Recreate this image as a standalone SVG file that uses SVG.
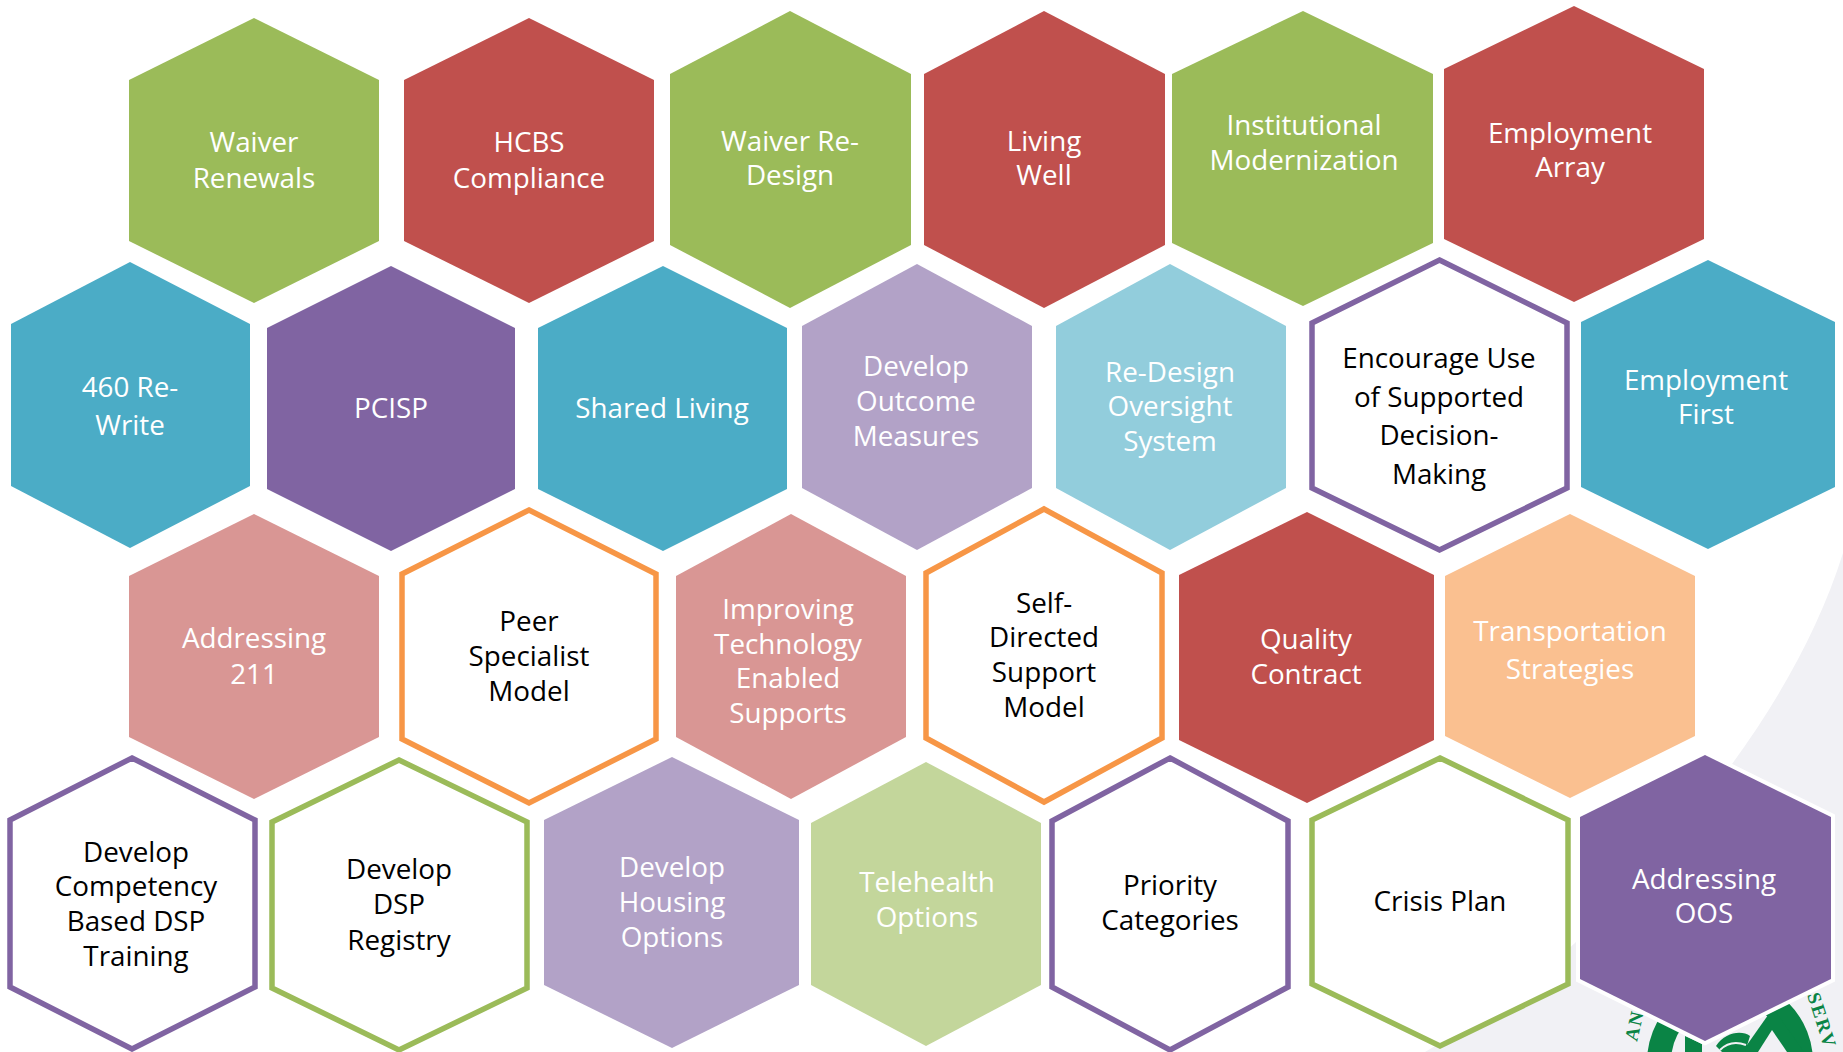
<svg xmlns="http://www.w3.org/2000/svg" width="1843" height="1052" viewBox="0 0 1843 1052">
<style>
text{font-family:"Open Sans","Noto Sans","Liberation Sans",sans-serif;font-size:27.8px;text-anchor:middle}
.w{fill:#fff}.k{fill:#000}
.g{fill:#9bbb59}.r{fill:#c0504d}.t{fill:#4bacc6}.p{fill:#8064a2}.lp{fill:#b2a2c7}.lt{fill:#92cddc}.pk{fill:#d99694}.po{fill:#fac090}.lg{fill:#c3d69b}
.o{fill:#fff;stroke-width:5.5;stroke-linejoin:miter}
.so{stroke:#8064a2}.sg{stroke:#9bbb59}.sa{stroke:#f79646}
.seal{font-family:"Liberation Serif",serif;font-size:19px;font-weight:bold;fill:#0a8445;text-anchor:start;letter-spacing:2px}
</style>
<rect width="1843" height="1052" fill="#fff"/>
<g id="backdrop">
<path d="M1843 553C1800 690 1700 820 1575 943C1530 985 1480 1020 1425 1052H1843Z" fill="#f1f1f5"/>
<circle cx="1730" cy="1062" r="71" fill="none" stroke="#0a8445" stroke-width="24"/>
<path d="M1773 1008L1742 1052H1804Z" fill="#0a8445"/>
<path d="M1772 1030L1758 1052H1787Z" fill="#f1f1f5"/>
<path d="M1685 1036L1702 1044L1702 1052H1685Z" fill="#0a8445"/>
<path d="M1716 1046C1725 1032 1742 1030 1750 1036L1745 1052H1722Z" fill="#0a8445"/>
<path d="M1720 1050C1728 1042 1738 1042 1746 1045" fill="none" stroke="#f1f1f5" stroke-width="2"/>
<text class="seal" transform="translate(1637 1042) rotate(-77)">AN</text>
<text class="seal" transform="translate(1807 995) rotate(72)">SERV</text>
</g>
<g id="connectors"></g>
<g id="n1"><polygon class="g" points="254,18 379,80 379,241 254,303 129,241 129,80"/><text class="w" x="254" y="152">Waiver</text><text class="w" x="254" y="188">Renewals</text></g>
<g id="n2"><polygon class="r" points="529,18 654,80 654,241 529,303 404,241 404,80"/><text class="w" x="529" y="152">HCBS</text><text class="w" x="529" y="188">Compliance</text></g>
<g id="n3"><polygon class="g" points="790,11 911,74 911,245 790,308 670,245 670,74"/><text class="w" x="790" y="151">Waiver Re-</text><text class="w" x="790" y="185">Design</text></g>
<g id="n4"><polygon class="r" points="1044,11 1165,74 1165,245 1044,308 924,245 924,74"/><text class="w" x="1044" y="151">Living</text><text class="w" x="1044" y="185">Well</text></g>
<g id="n5"><polygon class="g" points="1303,11 1433,74 1433,243 1303,306 1172,243 1172,74"/><text class="w" x="1304" y="135">Institutional</text><text class="w" x="1304" y="170">Modernization</text></g>
<g id="n6"><polygon class="r" points="1574,6 1704,69 1704,239 1574,302 1444,239 1444,69"/><text class="w" x="1570" y="143">Employment</text><text class="w" x="1570" y="177">Array</text></g>
<g id="n7"><polygon class="t" points="130,262 250,324 250,486 130,548 11,486 11,324"/><text class="w" x="130" y="397">460 Re-</text><text class="w" x="130" y="435">Write</text></g>
<g id="n8"><polygon class="p" points="391,266 515,328 515,489 391,551 267,489 267,328"/><text class="w" x="391" y="418">PCISP</text></g>
<g id="n9"><polygon class="t" points="663,266 787,328 787,489 663,551 538,489 538,328"/><text class="w" x="662" y="418">Shared Living</text></g>
<g id="n10"><polygon class="lp" points="917,264 1032,326 1032,488 917,550 802,488 802,326"/><text class="w" x="916" y="376">Develop</text><text class="w" x="916" y="411">Outcome</text><text class="w" x="916" y="446">Measures</text></g>
<g id="n11"><polygon class="lt" points="1170,264 1286,326 1286,488 1170,550 1056,488 1056,326"/><text class="w" x="1170" y="382">Re-Design</text><text class="w" x="1170" y="416">Oversight</text><text class="w" x="1170" y="451">System</text></g>
<g id="n12"><polygon class="o so" points="1439.500,260 1567,323 1567,488 1439.500,550 1312,488 1312,323"/><text class="k" x="1439" y="368">Encourage Use</text><text class="k" x="1439" y="407">of Supported</text><text class="k" x="1439" y="445">Decision-</text><text class="k" x="1439" y="484">Making</text></g>
<g id="n13"><polygon class="t" points="1708,260 1835,322 1835,487 1708,549 1581,487 1581,322"/><text class="w" x="1706" y="390">Employment</text><text class="w" x="1706" y="424">First</text></g>
<g id="n14"><polygon class="pk" points="254,514 379,576 379,737 254,799 129,737 129,576"/><text class="w" x="254" y="648">Addressing</text><text class="w" x="254" y="684">211</text></g>
<g id="n15"><polygon class="o sa" points="529,510 656,574 656,739 529,803 402,739 402,574"/><text class="k" x="529" y="631">Peer</text><text class="k" x="529" y="666">Specialist</text><text class="k" x="529" y="701">Model</text></g>
<g id="n16"><polygon class="pk" points="791,514 906,576 906,737 791,799 676,737 676,576"/><text class="w" x="788" y="619">Improving</text><text class="w" x="788" y="654">Technology</text><text class="w" x="788" y="688">Enabled</text><text class="w" x="788" y="723">Supports</text></g>
<g id="n17"><polygon class="o sa" points="1044,509 1162,573 1162,738 1044,802 926,738 926,573"/><text class="k" x="1044" y="613">Self-</text><text class="k" x="1044" y="647">Directed</text><text class="k" x="1044" y="682">Support</text><text class="k" x="1044" y="717">Model</text></g>
<g id="n18"><polygon class="r" points="1307,512 1434,575 1434,740 1307,803 1179,740 1179,575"/><text class="w" x="1306" y="649">Quality</text><text class="w" x="1306" y="684">Contract</text></g>
<g id="n19"><polygon class="po" points="1570,514 1695,576 1695,736 1570,798 1445,736 1445,576"/><text class="w" x="1570" y="641">Transportation</text><text class="w" x="1570" y="679">Strategies</text></g>
<g id="n20"><polygon class="o so" points="132,758 255,820 255,987 132,1049 10,987 10,820"/><text class="k" x="136" y="862">Develop</text><text class="k" x="136" y="896">Competency</text><text class="k" x="136" y="931">Based DSP</text><text class="k" x="136" y="966">Training</text></g>
<g id="n21"><polygon class="o sg" points="399,760 527,822 527,988 399,1050 272,988 272,822"/><text class="k" x="399" y="879">Develop</text><text class="k" x="399" y="914">DSP</text><text class="k" x="399" y="950">Registry</text></g>
<g id="n22"><polygon class="lp" points="672,757 799,820 799,985 672,1048 544,985 544,820"/><text class="w" x="672" y="877">Develop</text><text class="w" x="672" y="912">Housing</text><text class="w" x="672" y="947">Options</text></g>
<g id="n23"><polygon class="lg" points="926,762 1041,823 1041,985 926,1046 811,985 811,823"/><text class="w" x="927" y="892">Telehealth</text><text class="w" x="927" y="927">Options</text></g>
<g id="n24"><polygon class="o so" points="1170,758 1288,821 1288,987 1170,1050 1052,987 1052,821"/><text class="k" x="1170" y="895">Priority</text><text class="k" x="1170" y="930">Categories</text></g>
<g id="n25"><polygon class="o sg" points="1440,758 1568,820 1568,984 1440,1046 1312,984 1312,820"/><text class="k" x="1440" y="911">Crisis Plan</text></g>
<g id="n26"><polygon class="p" stroke="#fff" stroke-width="8" paint-order="stroke" points="1705,755 1831,817 1831,979 1705,1041 1580,979 1580,817"/><text class="w" x="1704" y="889">Addressing</text><text class="w" x="1704" y="923">OOS</text></g>
</svg>
